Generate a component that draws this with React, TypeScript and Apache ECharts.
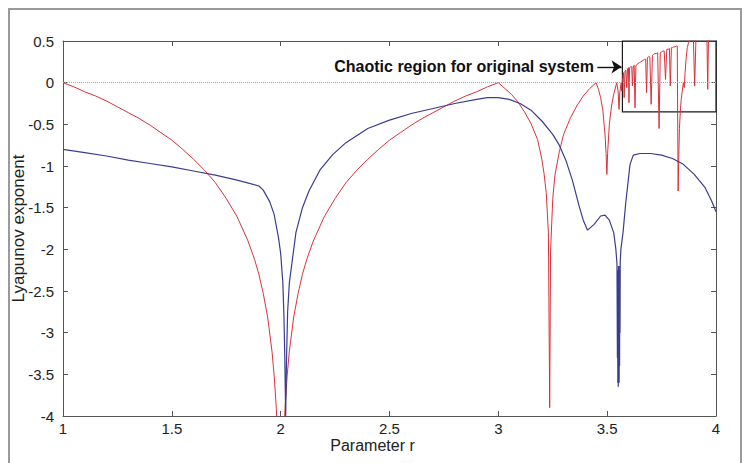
import React, { useEffect, useRef } from "react";
import * as echarts from "echarts";

// Original logistic map: parameter r and Lyapunov exponent
const redR = [
  1.0, 1.05, 1.1, 1.15, 1.2, 1.25, 1.3, 1.35, 1.4, 1.45, 1.5, 1.55, 1.6, 1.65, 1.7, 1.75, 1.8, 1.85, 1.88, 1.9,
  1.92, 1.94, 1.96, 1.97, 1.98, 1.99, 2.0, 2.01, 2.02, 2.03, 2.04, 2.06, 2.08, 2.1, 2.12, 2.15, 2.2, 2.25, 2.3,
  2.35, 2.4, 2.45, 2.5, 2.55, 2.6, 2.65, 2.7, 2.75, 2.8, 2.85, 2.9, 2.95, 3.0,
  3.03, 3.06, 3.09, 3.12, 3.15, 3.18, 3.2, 3.21, 3.22, 3.23, 3.236, 3.24, 3.25, 3.26, 3.28, 3.3, 3.33, 3.36,
  3.39, 3.42, 3.449,
  3.46, 3.47, 3.48, 3.49, 3.495, 3.4986, 3.502, 3.51, 3.52, 3.53, 3.54, 3.544, 3.55, 3.5546, 3.558, 3.5644,
  3.5668, 3.5688,
  3.572, 3.575, 3.578, 3.582, 3.586, 3.59, 3.594, 3.598, 3.6, 3.603, 3.608, 3.613, 3.616, 3.62, 3.624, 3.628,
  3.632, 3.637, 3.642, 3.648, 3.654, 3.66, 3.666, 3.672, 3.677, 3.681, 3.685, 3.69, 3.696, 3.702, 3.708, 3.714,
  3.72, 3.726, 3.732, 3.7385, 3.744, 3.75, 3.756, 3.762, 3.768, 3.774, 3.78, 3.786, 3.79, 3.795, 3.8, 3.806,
  3.812, 3.818, 3.822, 3.826, 3.829, 3.832, 3.836, 3.84, 3.845, 3.85, 3.854, 3.858, 3.863, 3.868, 3.874, 3.88,
  3.888, 3.896, 3.902, 3.908, 3.92, 3.93, 3.94, 3.95, 3.958, 3.962, 3.966, 3.975, 3.985, 4.0,
];
const redLambda = [
  0, -0.05, -0.11, -0.16, -0.22, -0.29, -0.36, -0.43, -0.51, -0.6, -0.69, -0.8, -0.92, -1.05, -1.2, -1.39, -1.61,
  -1.9, -2.12, -2.3, -2.53, -2.81, -3.22, -3.51, -3.91, -4.6, -6, -4.6, -3.91, -3.51, -3.22, -2.81, -2.53, -2.3,
  -2.12, -1.9, -1.61, -1.39, -1.2, -1.05, -0.92, -0.8, -0.69, -0.6, -0.51, -0.43, -0.36, -0.29, -0.22, -0.16,
  -0.11, -0.05, 0.0,
  -0.07, -0.14, -0.23, -0.35, -0.49, -0.68, -0.92, -1.09, -1.32, -1.8, -3.9, -2.02, -1.39, -1.11, -0.83, -0.62,
  -0.43, -0.28, -0.16, -0.07, 0.0,
  -0.08, -0.18, -0.33, -0.62, -0.85, -1.1, -0.85, -0.5, -0.28, -0.14, -0.04, 0.0, -0.1, -0.32, -0.12, 0.0, -0.1,
  0.0,
  0.06, 0.12, -0.18, 0.14, 0.15, -0.06, 0.17, 0.18, -0.24, 0.18, 0.19, 0.19, -0.04, 0.2, 0.21, -0.3, 0.2, 0.22,
  0.23, 0.24, 0.25, 0.26, 0.27, 0.28, 0.28, -0.12, 0.3, 0.31, 0.31, -0.26, 0.33, 0.34, 0.35, 0.35, 0.36, -0.55,
  0.36, 0.37, 0.38, 0.38, 0.04, 0.4, 0.4, 0.41, -0.04, 0.42, 0.42, 0.43, 0.43, 0.44, 0.44, -1.3, -0.9, -0.55,
  -0.35, -0.2, -0.1, 0.0, -0.06, 0.12, 0.3, 0.42, 0.48, 0.5, 0.52, 0.53, -0.04, 0.54, 0.55, 0.57, 0.58, 0.59,
  0.6, -0.08, 0.61, 0.63, 0.65, 0.69,
];

// Modified system: parameter r and Lyapunov exponent
const blueR = [
  1.0, 1.1, 1.2, 1.3, 1.4, 1.5, 1.6, 1.7, 1.8, 1.9, 1.92, 1.95, 1.97, 1.99, 2.0, 2.01, 2.015, 2.019, 2.023,
  2.027, 2.032, 2.04, 2.05, 2.07, 2.1, 2.13, 2.18, 2.24, 2.3, 2.4, 2.5, 2.6, 2.7, 2.8, 2.9, 2.95, 3.0, 3.05,
  3.1, 3.15, 3.2, 3.25, 3.28, 3.31, 3.34, 3.37, 3.39, 3.41, 3.44, 3.47, 3.49, 3.51, 3.53, 3.54, 3.545,
  3.547, 3.548, 3.549, 3.55, 3.551, 3.552, 3.553, 3.554, 3.555, 3.556, 3.557, 3.558, 3.559, 3.56,
  3.563, 3.568, 3.574, 3.585, 3.597, 3.605, 3.62, 3.65, 3.7, 3.75, 3.8, 3.85, 3.9, 3.95, 3.98, 4.0,
];
const blueLambda = [
  -0.8, -0.84, -0.88, -0.93, -0.97, -1.01, -1.06, -1.11, -1.17, -1.24, -1.29, -1.43, -1.58, -1.86, -2.05, -2.4,
  -2.8, -3.3, -4.0, -3.3, -2.75, -2.4, -2.2, -1.8, -1.5, -1.3, -1.05, -0.86, -0.72, -0.55, -0.45, -0.37, -0.31,
  -0.25, -0.2, -0.18, -0.18, -0.2, -0.25, -0.33, -0.46, -0.62, -0.75, -0.93, -1.17, -1.47, -1.65, -1.77, -1.7,
  -1.6, -1.59, -1.65, -1.8, -2.0, -2.17,
  -3.3, -2.25, -3.6, -2.3, -3.65, -2.2, -3.55, -2.3, -3.6, -2.25, -3.4, -2.2, -3.0, -2.15,
  -2.0, -1.9, -1.77, -1.45, -1.17, -0.98, -0.87, -0.85, -0.85, -0.87, -0.91, -0.98, -1.1, -1.26, -1.42, -1.55,
];

// Chaotic-region box [rFrom, lambdaTop, rTo, lambdaBottom]
const chaosBox = [3.57, 0.5, 4.0, -0.35];
// Annotation arrow [rStart, rEnd, lambda]
const arrowSpan = [3.455, 3.566, 0.19];
const annotationText = "Chaotic region for original system";

const FONT = "'Liberation Sans', Arial, Helvetica, sans-serif";

export default function App() {
  const ref = useRef<HTMLDivElement>(null);

  useEffect(() => {
    const chart = echarts.init(ref.current!, null, { renderer: "svg" });

    const axisLine = { show: true, onZero: false, lineStyle: { color: "#555", width: 1 } };
    const axisTick = { show: true, inside: true, length: 5, lineStyle: { color: "#555" } };

    chart.setOption({
      animation: false,
      backgroundColor: "#ffffff",
      textStyle: { fontFamily: FONT },
      grid: {
        left: 53,
        top: 31,
        right: 24,
        bottom: 60,
        containLabel: false,
        outerBoundsMode: "none",
      },
      xAxis: [
        {
          type: "value",
          min: 1,
          max: 4,
          interval: 0.5,
          position: "bottom",
          axisLine,
          axisTick,
          splitLine: { show: false },
          axisLabel: { fontSize: 15, color: "#222", margin: 5, fontFamily: FONT },
          name: "Parameter r",
          nameLocation: "middle",
          nameGap: 21,
          nameMoveOverlap: false,
          nameTextStyle: { fontSize: 16, color: "#222", fontFamily: FONT, padding: [0, 34, 0, 0] },
        },
        {
          type: "value",
          min: 1,
          max: 4,
          interval: 0.5,
          position: "top",
          axisLine,
          axisTick,
          splitLine: { show: false },
          axisLabel: { show: false },
        },
      ],
      yAxis: [
        {
          type: "value",
          min: -4,
          max: 0.5,
          interval: 0.5,
          position: "left",
          axisLine,
          axisTick,
          splitLine: { show: false },
          axisLabel: { fontSize: 15, color: "#222", margin: 9, fontFamily: FONT },
          name: "Lyapunov exponent",
          nameLocation: "middle",
          nameGap: 36,
          nameMoveOverlap: false,
          nameTextStyle: { fontSize: 17, color: "#222", fontFamily: FONT },
        },
        {
          type: "value",
          min: -4,
          max: 0.5,
          interval: 0.5,
          position: "right",
          axisLine,
          axisTick,
          splitLine: { show: false },
          axisLabel: { show: false },
        },
      ],
      series: [
        {
          name: "reference",
          type: "line",
          data: [],
          silent: true,
          markLine: {
            silent: true,
            symbol: ["none", "none"],
            label: { show: false },
            lineStyle: { color: "#a8a8a8", type: "dotted", width: 1 },
            data: [{ yAxis: 0 }],
          },
          markArea: {
            silent: true,
            itemStyle: { color: "rgba(0,0,0,0)", borderColor: "#1a1a1a", borderWidth: 1.2 },
            data: [[{ coord: [chaosBox[0], chaosBox[1]] }, { coord: [chaosBox[2], chaosBox[3]] }]],
          },
        },
        {
          name: "original",
          type: "line",
          data: redR.map((r, i) => [r, redLambda[i]]),
          showSymbol: false,
          symbol: "none",
          clip: true,
          lineStyle: { color: "#d9323c", width: 1 },
          z: 2,
        },
        {
          name: "modified",
          type: "line",
          data: blueR.map((r, i) => [r, blueLambda[i]]),
          showSymbol: false,
          symbol: "none",
          clip: true,
          lineStyle: { color: "#3b3b8f", width: 1.2 },
          z: 3,
        },
        {
          name: "annotation",
          type: "line",
          data: [],
          silent: true,
          markLine: {
            silent: true,
            symbol: ["none", "arrow"],
            symbolSize: 10,
            label: { show: false },
            lineStyle: { color: "#111", type: "solid", width: 1.4 },
            itemStyle: { color: "#111" },
            data: [[{ coord: [arrowSpan[0], arrowSpan[2]] }, { coord: [arrowSpan[1], arrowSpan[2]] }]],
          },
          markPoint: {
            silent: true,
            symbol: "rect",
            symbolSize: 1,
            itemStyle: { color: "rgba(0,0,0,0)" },
            label: {
              show: true,
              position: "left",
              distance: 3,
              formatter: annotationText,
              fontSize: 16,
              fontWeight: "bold",
              color: "#111",
              fontFamily: FONT,
            },
            data: [{ coord: [arrowSpan[0], arrowSpan[2]] }],
          },
        },
      ],
    });

    return () => chart.dispose();
  }, []);

  return (
    <div
      style={{
        width: 734,
        height: 470,
        border: "2px solid #9a9a9a",
        boxSizing: "border-box",
        background: "#fff",
      }}
    >
      <div ref={ref} style={{ width: 730, height: 466 }} />
    </div>
  );
}
